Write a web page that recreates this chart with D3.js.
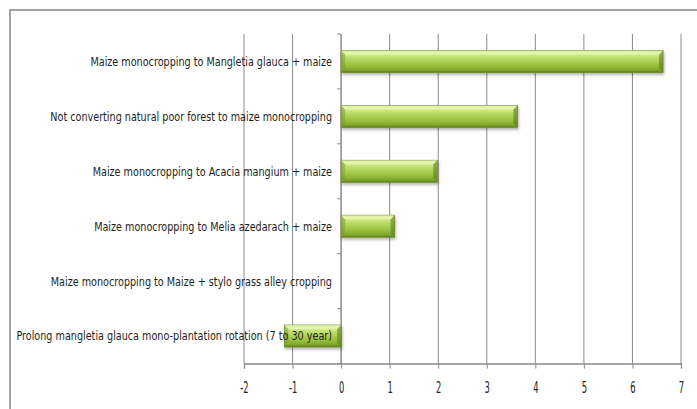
<!DOCTYPE html>
<html><head><meta charset="utf-8">
<script src="https://cdn.jsdelivr.net/npm/d3@7"></script>
<style>body{margin:0;background:#fff}svg{display:block}</style>
</head><body>
<svg id="c" width="697" height="409"></svg>
<script>
const categories = [
  "Maize monocropping to Mangletia glauca + maize",
  "Not converting natural poor forest to maize monocropping",
  "Maize monocropping to Acacia mangium + maize",
  "Maize monocropping to Melia azedarach + maize",
  "Maize monocropping to Maize + stylo grass alley cropping",
  "Prolong mangletia glauca mono-plantation rotation (7 to 30 year)"
];
const values = [6.63, 3.63, 1.98, 1.10, 0, -1.17];
const xTicks = [-2, -1, 0, 1, 2, 3, 4, 5, 6, 7];

const FONT = "'DejaVu Sans Condensed','Liberation Sans',sans-serif";
const svg = d3.select("#c");
const defs = svg.append("defs");
const g1 = defs.append("linearGradient").attr("id","bar").attr("x1",0).attr("y1",0).attr("x2",0).attr("y2",1);
[[0,"#b5d464"],[0.12,"#dcf197"],[0.35,"#badb67"],[0.7,"#98bf3c"],[0.9,"#7ea42c"],[1,"#5c7b1e"]].forEach(s=>g1.append("stop").attr("offset",s[0]).attr("stop-color",s[1]));
const f = defs.append("filter").attr("id","sh").attr("x","-10%").attr("y","-30%").attr("width","130%").attr("height","180%");
f.append("feDropShadow").attr("dx",1).attr("dy",2).attr("stdDeviation",1.5).attr("flood-color","#000").attr("flood-opacity",0.3);

// frame
svg.append("rect").attr("x",10).attr("y",10).attr("width",700).attr("height",410)
  .attr("fill","none").attr("stroke","#8c8c8c").attr("stroke-width",1.6);

const x = d3.scaleLinear().domain([-2,7]).range([244,681]);
const y = d3.scaleBand().domain(categories).range([34,363.5]).paddingInner(0.6).paddingOuter(0.3);
const band = d3.scaleBand().domain(categories).range([34,363.5]);

// gridlines
svg.append("g").selectAll("line").data(xTicks).join("line")
  .attr("x1",d=>x(d)).attr("x2",d=>x(d)).attr("y1",34).attr("y2",363.5)
  .attr("stroke","#8a8a8a").attr("stroke-width",1);

// bottom axis
const xa = svg.append("g").attr("transform","translate(0,363.5)")
  .call(d3.axisBottom(x).tickValues(xTicks).tickSize(5).tickFormat(d=>String(d)));
xa.select(".domain").attr("stroke","#8a8a8a").attr("stroke-width",1.3);
xa.selectAll(".tick line").attr("stroke","#8a8a8a");
xa.selectAll("text").attr("font-family",FONT).attr("font-size",15).attr("fill","#222")
  .attr("y",29.8).attr("dy",0).attr("transform","scale(0.62,1)");

// y axis line at 0 with ticks to left
const ya = svg.append("g").attr("transform",`translate(${x(0)},0)`);
ya.append("line").attr("x1",0).attr("x2",0).attr("y1",34).attr("y2",363.5).attr("stroke","#8a8a8a");
const bounds = categories.map(c=>band(c)).concat([363.5]);
ya.selectAll("line.t").data(bounds).join("line").attr("class","t")
  .attr("x1",-4).attr("x2",0).attr("y1",d=>d).attr("y2",d=>d).attr("stroke","#8a8a8a");

// bars
const bars = svg.append("g").selectAll("g").data(categories).join("g");
bars.each(function(c,i){
  const v = values[i];
  if (v === 0) return;
  const x0 = Math.min(x(0),x(v)), w = Math.abs(x(v)-x(0));
  const yy = y(c), h = y.bandwidth();
  const gg = d3.select(this);
  gg.append("rect").attr("x",x0).attr("y",yy).attr("width",w).attr("height",h)
    .attr("fill","url(#bar)").attr("stroke","#6b8b28").attr("stroke-width",0.8).attr("filter","url(#sh)");
  const b = 4;
  gg.append("path").attr("d",`M${x0},${yy}L${x0+b},${yy+b}L${x0+b},${yy+h-b}L${x0},${yy+h}Z`).attr("fill","#7ea030").attr("opacity",0.6);
  gg.append("path").attr("d",`M${x0+w},${yy}L${x0+w-b},${yy+b}L${x0+w-b},${yy+h-b}L${x0+w},${yy+h}Z`).attr("fill","#5e7d1f").attr("opacity",0.6);
  gg.append("path").attr("d",`M${x0},${yy}L${x0+b},${yy+b}L${x0+w-b},${yy+b}L${x0+w},${yy}Z`).attr("fill","#eaf8b8").attr("opacity",0.7);
});

// category labels
const labs = svg.append("g").selectAll("g").data(categories).join("g")
  .attr("transform",c=>`translate(332,${band(c)+band.bandwidth()/2})`);
const txt = labs.append("text").attr("x",0).attr("y",0).attr("dy","0.35em")
  .attr("text-anchor","end").attr("font-family",FONT)
  .attr("font-size",12.5).attr("fill","#1e1e1e").text(c=>c);
const w0 = txt.nodes()[0].getComputedTextLength();
const k = 242 / w0;
txt.attr("transform",`scale(${k},1)`);
</script>
</body></html>
